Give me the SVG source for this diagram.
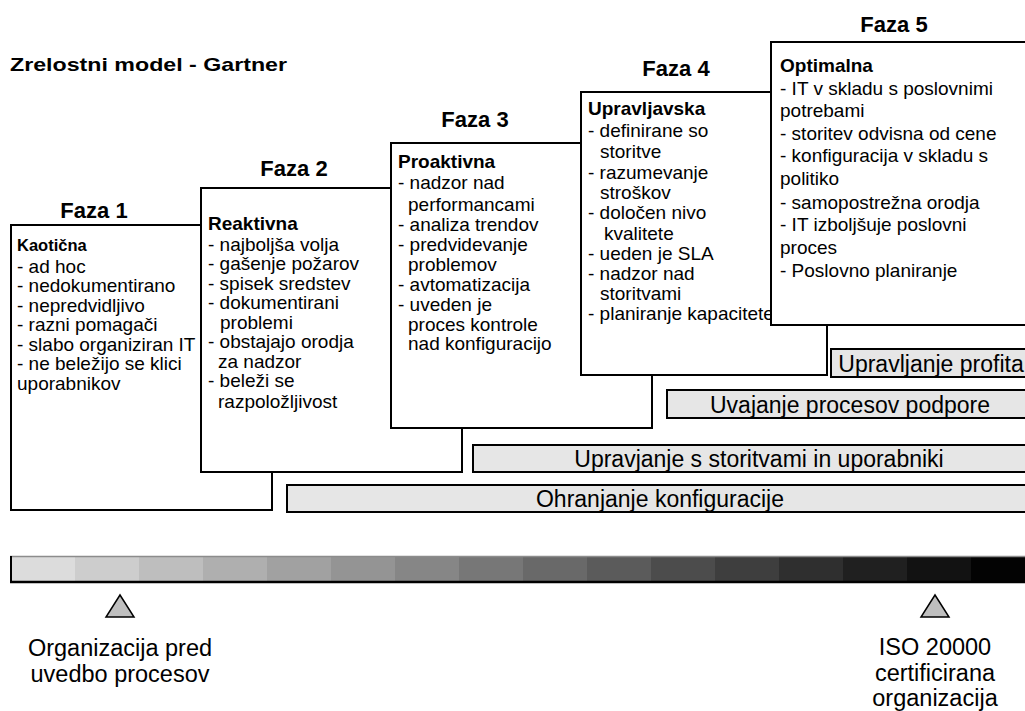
<svg xmlns="http://www.w3.org/2000/svg" width="1025" height="711" viewBox="0 0 1025 711">
<style>
text{font-family:"Liberation Sans",Arial,sans-serif;fill:#000}
.box{fill:#fff;stroke:#000;stroke-width:2}
.bar{fill:#e6e6e6;stroke:#000;stroke-width:2}
.faza{font-size:22px;font-weight:bold;text-anchor:middle}
.hd{font-size:19px;font-weight:bold}
.bd{font-size:19px}
.bl{font-size:23px;text-anchor:middle}
.lb{font-size:23.5px;text-anchor:middle}
.tri{fill:#bfbfbf;stroke:#000;stroke-width:1.5}
</style>
<rect width="1025" height="711" fill="#fff"/>
<text x="10" y="71" textLength="277" lengthAdjust="spacingAndGlyphs" style="font-size:19px;font-weight:bold">Zrelostni model - Gartner</text>

<g id="faza1">
<text class="faza" x="94" y="218">Faza 1</text>
<rect class="box" x="11" y="225" width="261" height="285"/>
<text class="hd" x="17" y="251" style="font-size:16.5px">Kaotična</text>
<text class="bd" x="17" y="272.5">- ad hoc</text>
<text class="bd" x="17" y="292">- nedokumentirano</text>
<text class="bd" x="17" y="311.6">- nepredvidljivo</text>
<text class="bd" x="17" y="331.2">- razni pomagači</text>
<text class="bd" x="17" y="350.8">- slabo organiziran IT</text>
<text class="bd" x="17" y="370.4">- ne beležijo se klici</text>
<text class="bd" x="17" y="390">uporabnikov</text>
</g>

<g id="faza2">
<text class="faza" x="294" y="176">Faza 2</text>
<rect class="box" x="201" y="188" width="261" height="284"/>
<text class="hd" x="208" y="230">Reaktivna</text>
<text class="bd" x="208" y="250.5">- najboljša volja</text>
<text class="bd" x="208" y="270">- gašenje požarov</text>
<text class="bd" x="208" y="289.5">- spisek sredstev</text>
<text class="bd" x="208" y="309">- dokumentirani</text>
<text class="bd" x="220" y="328.5">problemi</text>
<text class="bd" x="208" y="348">- obstajajo orodja</text>
<text class="bd" x="218" y="367.5">za nadzor</text>
<text class="bd" x="208" y="387">- beleži se</text>
<text class="bd" x="218" y="408">razpoložljivost</text>
</g>

<g id="faza3">
<text class="faza" x="475" y="127">Faza 3</text>
<rect class="box" x="391" y="143" width="261" height="285"/>
<text class="hd" x="398" y="168">Proaktivna</text>
<text class="bd" x="398" y="189">- nadzor nad</text>
<text class="bd" x="408" y="211">performancami</text>
<text class="bd" x="398" y="231">- analiza trendov</text>
<text class="bd" x="398" y="251">- predvidevanje</text>
<text class="bd" x="408" y="271">problemov</text>
<text class="bd" x="398" y="291">- avtomatizacija</text>
<text class="bd" x="398" y="310.5">- uveden je</text>
<text class="bd" x="408" y="330.5">proces kontrole</text>
<text class="bd" x="408" y="350">nad konfiguracijo</text>
</g>

<g id="faza4">
<text class="faza" x="676" y="76">Faza 4</text>
<rect class="box" x="581" y="92" width="246" height="283"/>
<text class="hd" x="588" y="115">Upravljavska</text>
<text class="bd" x="588" y="137">- definirane so</text>
<text class="bd" x="600" y="158">storitve</text>
<text class="bd" x="588" y="178.5">- razumevanje</text>
<text class="bd" x="600" y="199">stroškov</text>
<text class="bd" x="588" y="219">- določen nivo</text>
<text class="bd" x="604" y="239.5">kvalitete</text>
<text class="bd" x="588" y="259.5">- ueden je SLA</text>
<text class="bd" x="588" y="279.5">- nadzor nad</text>
<text class="bd" x="600" y="299.5">storitvami</text>
<text class="bd" x="588" y="319.5">- planiranje kapacitete</text>
</g>

<g id="faza5">
<text class="faza" x="894" y="32">Faza 5</text>
<rect class="box" x="771" y="42" width="262" height="283"/>
<text class="hd" x="780" y="72">Optimalna</text>
<text class="bd" x="780" y="94.5">- IT v skladu s poslovnimi</text>
<text class="bd" x="780" y="117">potrebami</text>
<text class="bd" x="780" y="139.5">- storitev odvisna od cene</text>
<text class="bd" x="780" y="162">- konfiguracija v skladu s</text>
<text class="bd" x="780" y="185">politiko</text>
<text class="bd" x="780" y="208.5">- samopostrežna orodja</text>
<text class="bd" x="780" y="231">- IT izboljšuje poslovni</text>
<text class="bd" x="780" y="254">proces</text>
<text class="bd" x="780" y="277">- Poslovno planiranje</text>
</g>

<g id="bar-profit">
<rect class="bar" x="831" y="349" width="200" height="28"/>
<text class="bl" x="931" y="371.5">Upravljanje profita</text>
</g>
<g id="bar-podpora">
<rect class="bar" x="667" y="390" width="364" height="28"/>
<text class="bl" x="850" y="412.5">Uvajanje procesov podpore</text>
</g>
<g id="bar-storitve">
<rect class="bar" x="473" y="445" width="558" height="27"/>
<text class="bl" x="759" y="466.5">Upravjanje s storitvami in uporabniki</text>
</g>
<g id="bar-konfig">
<rect class="bar" x="287" y="485" width="744" height="27"/>
<text class="bl" x="660" y="506.5">Ohranjanje konfiguracije</text>
</g>

<g id="scale">
<rect x="11" y="557" width="1016" height="25" fill="#000"/>
<rect x="11" y="557" width="64" height="24" fill="#dcdcdc"/>
<rect x="75" y="557" width="64" height="24" fill="#cdcdcd"/>
<rect x="139" y="557" width="64" height="24" fill="#bebebe"/>
<rect x="203" y="557" width="64" height="24" fill="#afafaf"/>
<rect x="267" y="557" width="64" height="24" fill="#a1a1a1"/>
<rect x="331" y="557" width="64" height="24" fill="#949494"/>
<rect x="395" y="557" width="64" height="24" fill="#868686"/>
<rect x="459" y="557" width="64" height="24" fill="#777777"/>
<rect x="523" y="557" width="64" height="24" fill="#696969"/>
<rect x="587" y="557" width="64" height="24" fill="#5b5b5b"/>
<rect x="651" y="557" width="64" height="24" fill="#4c4c4c"/>
<rect x="715" y="557" width="64" height="24" fill="#3e3e3e"/>
<rect x="779" y="557" width="64" height="24" fill="#2f2f2f"/>
<rect x="843" y="557" width="64" height="24" fill="#202020"/>
<rect x="907" y="557" width="64" height="24" fill="#121212"/>
<rect x="971" y="557" width="56" height="24" fill="#030303"/>
<line x1="10" y1="556.5" x2="1025" y2="556.5" stroke="#8c8c8c" stroke-width="1.5"/>
<line x1="11" y1="556" x2="11" y2="583" stroke="#000" stroke-width="2"/>
<line x1="10" y1="582" x2="1025" y2="582" stroke="#000" stroke-width="2.5"/>
</g>

<g id="marker-start">
<polygon class="tri" points="120,595 106,617 134,617"/>
<text class="lb" x="120" y="656">Organizacija pred</text>
<text class="lb" x="120" y="682">uvedbo procesov</text>
</g>
<g id="marker-end">
<polygon class="tri" points="935,595 921,617 949,617"/>
<text class="lb" x="935" y="655">ISO 20000</text>
<text class="lb" x="935" y="681">certificirana</text>
<text class="lb" x="935" y="706">organizacija</text>
</g>
</svg>
